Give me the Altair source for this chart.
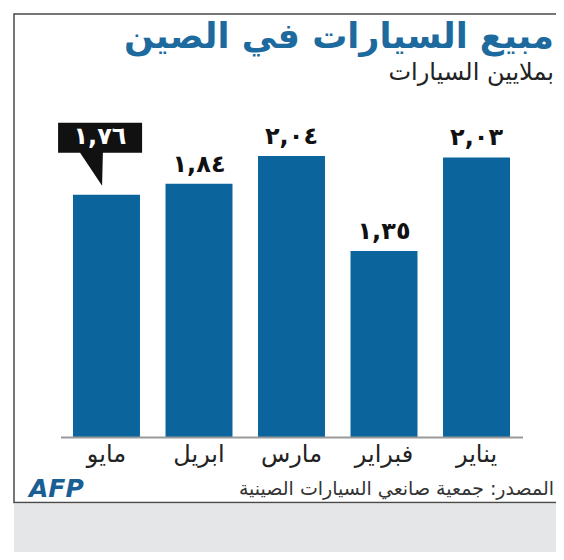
import altair as alt
import pandas as pd

# data (left-to-right as drawn)
months = ["مايو", "ابريل", "مارس", "فبراير", "يناير"]
values = [1.76, 1.84, 2.04, 1.35, 2.03]
highlight = ["مايو"]

title_text = "مبيع السيارات في الصين"
subtitle_text = "بملايين السيارات"
source_text = "المصدر: جمعية صانعي السيارات الصينية"
logo_text = "AFP"

AR_DIGITS = str.maketrans("0123456789.", "٠١٢٣٤٥٦٧٨٩,")


def ar(v):
    return f"{v:.2f}".translate(AR_DIGITS)


df = pd.DataFrame({
    "month": months,
    "value": values,
    "label": [ar(v) for v in values],
    "hl": [m in highlight for m in months],
})

FONT = "DejaVu Sans"
BAR = "#0b659c"

x = alt.X("month:N", sort=months, axis=None,
          scale=alt.Scale(range=[65, 502], paddingInner=0.276, paddingOuter=0))
y = alt.Y("value:Q", axis=None, scale=alt.Scale(domain=[0, 3], range=[429, 15.9]))

base = alt.Chart(df)

dummy = alt.Data(values=[{"a": 1}])

grey = alt.Chart(dummy).mark_rect(fill="#e5e6e8").encode(
    x=alt.value(6), x2=alt.value(560), y=alt.value(496), y2=alt.value(560))
border = alt.Chart(dummy).mark_rect(filled=False, stroke="#4a4a4a", strokeWidth=1.5).encode(
    x=alt.value(6), x2=alt.value(620), y=alt.value(6), y2=alt.value(494.5))

bars = base.mark_bar(color=BAR).encode(x=x, y=y)

rule = alt.Chart(dummy).mark_rule(color="#9a9a9a", strokeWidth=2).encode(
    x=alt.value(53), x2=alt.value(515), y=alt.value(429.5))

labels = base.transform_filter("!datum.hl").mark_text(
    font=FONT, fontSize=24, fontWeight="bold", color="#111", baseline="middle", dy=-19
).encode(x=x, y=y, text="label:N")

callout_path = ("M-1.21,-1.8 L0.89,-1.8 L0.89,-1.05 L-0.09,-1.05 L-0.11,-0.22 "
                "L-0.66,-1.05 L-1.21,-1.05 Z")
callout = base.transform_filter("datum.hl").mark_point(
    shape=callout_path, filled=True, color="#111", opacity=1, size=6400, strokeWidth=0
).encode(x=x, y=y)
callout_text = base.transform_filter("datum.hl").mark_text(
    font=FONT, fontSize=24, fontWeight="bold", color="white", baseline="middle", dx=-6.5, dy=-58
).encode(x=x, y=y, text="label:N")

month_labels = base.mark_text(
    font=FONT, fontSize=24, color="#222", baseline="middle"
).encode(x=x, y=alt.value(447), text="month:N")

title = alt.Chart(dummy).mark_text(
    text=title_text, font=FONT, fontSize=35, fontWeight="bold", color="#1d6a9e",
    align="right", baseline="middle"
).encode(x=alt.value(546), y=alt.value(29))
subtitle = alt.Chart(dummy).mark_text(
    text=subtitle_text, font=FONT, fontSize=24, color="#222",
    align="right", baseline="middle"
).encode(x=alt.value(546), y=alt.value(65))
source = alt.Chart(dummy).mark_text(
    text=source_text, font=FONT, fontSize=19, color="#333",
    align="right", baseline="middle"
).encode(x=alt.value(546), y=alt.value(481))
logo = alt.Chart(dummy).mark_text(
    text=logo_text, font=FONT, fontSize=25, fontWeight="bold", fontStyle="italic",
    color="#1a5e96", align="left", baseline="middle"
).encode(x=alt.value(21), y=alt.value(481))

chart = alt.layer(
    grey, border, bars, rule, labels, callout, callout_text, month_labels,
    title, subtitle, source, logo
).properties(
    width=548, height=544, autosize=alt.AutoSizeParams(type="none"), padding=0,
    background="white"
).configure_view(stroke=None)

chart.save("out.html", embed_options={"renderer": "svg", "actions": False})
